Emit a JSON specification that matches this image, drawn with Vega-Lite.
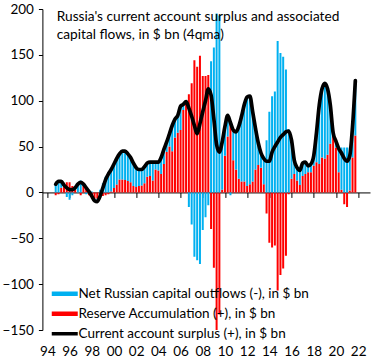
{
  "$schema": "https://vega.github.io/schema/vega-lite/v6.json",
  "width": 327.6,
  "height": 321,
  "autosize": {"type": "none"},
  "padding": {"left": 42.4, "top": 9, "right": 14, "bottom": 30},
  "background": "white",
  "config": {"view": {"stroke": null}, "font": "Lato"},
  "title": {
    "text": ["Russia's current account surplus and associated", "capital flows, in $ bn (4qma)"],
    "anchor": "start", "frame": "group", "orient": "top", "offset": 0,
    "dx": 14.3, "dy": 40, "baseline": "top", "lineHeight": 18,
    "font": "Lato", "fontSize": 13.7, "fontWeight": "normal", "color": "#000"
  },
  "data": {
    "format": {"parse": {"d": "utc:'%Y-%m-%d'"}},
    "values": [
      {"d":"1994-10-01","ca":9,"res":-3,"out":9},
      {"d":"1995-01-01","ca":12,"res":-2,"out":10},
      {"d":"1995-04-01","ca":12,"res":5,"out":7},
      {"d":"1995-07-01","ca":8,"res":8,"out":0},
      {"d":"1995-10-01","ca":5,"res":11,"out":-5},
      {"d":"1996-01-01","ca":3,"res":11,"out":-8},
      {"d":"1996-04-01","ca":3,"res":7,"out":-3},
      {"d":"1996-07-01","ca":5,"res":3,"out":2},
      {"d":"1996-10-01","ca":9,"res":0,"out":9},
      {"d":"1997-01-01","ca":11,"res":-3,"out":13},
      {"d":"1997-04-01","ca":9,"res":7,"out":2},
      {"d":"1997-07-01","ca":5,"res":6,"out":-2},
      {"d":"1997-10-01","ca":1,"res":-3,"out":3},
      {"d":"1998-01-01","ca":-4,"res":-5,"out":1},
      {"d":"1998-04-01","ca":-9,"res":-7,"out":-2},
      {"d":"1998-07-01","ca":-10,"res":-7,"out":-3},
      {"d":"1998-10-01","ca":-4,"res":-5,"out":3},
      {"d":"1999-01-01","ca":5,"res":-4,"out":10},
      {"d":"1999-04-01","ca":14,"res":-3,"out":17},
      {"d":"1999-07-01","ca":20,"res":-2,"out":22},
      {"d":"1999-10-01","ca":25,"res":1,"out":24},
      {"d":"2000-01-01","ca":31,"res":4.7,"out":26},
      {"d":"2000-04-01","ca":37,"res":8.7,"out":28},
      {"d":"2000-07-01","ca":42,"res":14,"out":28},
      {"d":"2000-10-01","ca":45,"res":14,"out":31},
      {"d":"2001-01-01","ca":45,"res":13.5,"out":31.5},
      {"d":"2001-04-01","ca":42,"res":12.5,"out":29.5},
      {"d":"2001-07-01","ca":38,"res":11,"out":27},
      {"d":"2001-10-01","ca":32,"res":7,"out":25},
      {"d":"2002-01-01","ca":27,"res":6,"out":21},
      {"d":"2002-04-01","ca":25,"res":7,"out":18},
      {"d":"2002-07-01","ca":25,"res":7.5,"out":17.5},
      {"d":"2002-10-01","ca":28,"res":10,"out":18},
      {"d":"2003-01-01","ca":32,"res":17,"out":15},
      {"d":"2003-04-01","ca":33,"res":18,"out":15},
      {"d":"2003-07-01","ca":33,"res":13,"out":20},
      {"d":"2003-10-01","ca":33,"res":25,"out":8},
      {"d":"2004-01-01","ca":33,"res":24,"out":9},
      {"d":"2004-04-01","ca":38,"res":20,"out":18},
      {"d":"2004-07-01","ca":47,"res":31,"out":16},
      {"d":"2004-10-01","ca":55,"res":44,"out":11},
      {"d":"2005-01-01","ca":64,"res":50,"out":14},
      {"d":"2005-04-01","ca":73,"res":45,"out":28},
      {"d":"2005-07-01","ca":80,"res":60,"out":20},
      {"d":"2005-10-01","ca":84,"res":65,"out":19},
      {"d":"2006-01-01","ca":94,"res":68,"out":26},
      {"d":"2006-04-01","ca":96,"res":90,"out":6},
      {"d":"2006-07-01","ca":99,"res":99,"out":1},
      {"d":"2006-10-01","ca":92,"res":107,"out":-16},
      {"d":"2007-01-01","ca":83,"res":119,"out":-35},
      {"d":"2007-04-01","ca":73,"res":144,"out":-70},
      {"d":"2007-07-01","ca":64,"res":137,"out":-74},
      {"d":"2007-10-01","ca":75,"res":149,"out":-78},
      {"d":"2008-01-01","ca":88,"res":127,"out":-41},
      {"d":"2008-04-01","ca":100,"res":127,"out":-27},
      {"d":"2008-07-01","ca":113,"res":128,"out":-14},
      {"d":"2008-10-01","ca":106,"res":-40,"out":143},
      {"d":"2009-01-01","ca":80,"res":-82,"out":158},
      {"d":"2009-04-01","ca":52,"res":-150,"out":195},
      {"d":"2009-07-01","ca":44,"res":-133,"out":193},
      {"d":"2009-10-01","ca":55,"res":3,"out":52},
      {"d":"2010-01-01","ca":72,"res":40,"out":32},
      {"d":"2010-04-01","ca":84,"res":61,"out":23},
      {"d":"2010-07-01","ca":76,"res":78,"out":-3},
      {"d":"2010-10-01","ca":68,"res":35,"out":33},
      {"d":"2011-01-01","ca":66,"res":25,"out":41},
      {"d":"2011-04-01","ca":72,"res":15,"out":57},
      {"d":"2011-07-01","ca":83,"res":12,"out":71},
      {"d":"2011-10-01","ca":96,"res":12,"out":84},
      {"d":"2012-01-01","ca":104,"res":7,"out":97},
      {"d":"2012-04-01","ca":105,"res":9,"out":96},
      {"d":"2012-07-01","ca":88,"res":12,"out":76},
      {"d":"2012-10-01","ca":70,"res":25,"out":45},
      {"d":"2013-01-01","ca":54,"res":30,"out":24},
      {"d":"2013-04-01","ca":43,"res":27,"out":16},
      {"d":"2013-07-01","ca":37,"res":9,"out":28},
      {"d":"2013-10-01","ca":34,"res":-23,"out":57},
      {"d":"2014-01-01","ca":34,"res":-55,"out":88},
      {"d":"2014-04-01","ca":44,"res":-60,"out":105},
      {"d":"2014-07-01","ca":50,"res":-58,"out":110},
      {"d":"2014-10-01","ca":55,"res":-107,"out":165},
      {"d":"2015-01-01","ca":60,"res":-90,"out":152},
      {"d":"2015-04-01","ca":63,"res":-83,"out":148},
      {"d":"2015-07-01","ca":66,"res":-69,"out":134},
      {"d":"2015-10-01","ca":67,"res":-2,"out":69},
      {"d":"2016-01-01","ca":57,"res":15,"out":42},
      {"d":"2016-04-01","ca":35,"res":20,"out":15},
      {"d":"2016-07-01","ca":27,"res":13,"out":14},
      {"d":"2016-10-01","ca":24,"res":8,"out":16},
      {"d":"2017-01-01","ca":32,"res":18,"out":14},
      {"d":"2017-04-01","ca":33,"res":20,"out":13},
      {"d":"2017-07-01","ca":29,"res":22,"out":7},
      {"d":"2017-10-01","ca":31,"res":22,"out":9},
      {"d":"2018-01-01","ca":40,"res":29,"out":11},
      {"d":"2018-04-01","ca":65,"res":33,"out":32},
      {"d":"2018-07-01","ca":95,"res":31,"out":64},
      {"d":"2018-10-01","ca":113,"res":38,"out":75},
      {"d":"2019-01-01","ca":119,"res":37,"out":82},
      {"d":"2019-04-01","ca":113,"res":41,"out":72},
      {"d":"2019-07-01","ca":95,"res":53,"out":42},
      {"d":"2019-10-01","ca":65,"res":62,"out":5},
      {"d":"2020-01-01","ca":56,"res":49,"out":7},
      {"d":"2020-04-01","ca":48,"res":22,"out":26},
      {"d":"2020-07-01","ca":43,"res":3,"out":46},
      {"d":"2020-10-01","ca":37,"res":-13,"out":49},
      {"d":"2021-01-01","ca":34,"res":-16,"out":49},
      {"d":"2021-04-01","ca":40,"res":2,"out":47},
      {"d":"2021-07-01","ca":72,"res":38,"out":34},
      {"d":"2021-10-01","ca":122,"res":62,"out":60}
    ]
  },
  "resolve": {"axis": {"x": "independent"}},
  "layer": [
    {
      "transform": [{"fold": ["res", "out"], "as": ["key", "v"]}],
      "mark": {"type": "bar", "width": 2, "clip": true},
      "encoding": {
        "x": {
          "field": "d", "type": "temporal",
          "scale": {"type": "utc", "domain": [{"year": 1994, "month": 1, "date": 1, "utc": true}, {"year": 2022, "month": 8, "date": 15, "utc": true}]},
          "axis": {
            "orient": "bottom", "title": null, "format": "%y", "domain": false, "ticks": false, "grid": false,
            "values": [{"year":1994,"utc":true},{"year":1996,"utc":true},{"year":1998,"utc":true},{"year":2000,"utc":true},{"year":2002,"utc":true},{"year":2004,"utc":true},{"year":2006,"utc":true},{"year":2008,"utc":true},{"year":2010,"utc":true},{"year":2012,"utc":true},{"year":2014,"utc":true},{"year":2016,"utc":true},{"year":2018,"utc":true},{"year":2020,"utc":true},{"year":2022,"utc":true}],
            "labelFont": "Lato", "labelFontSize": 13.5, "labelColor": "#000", "labelPadding": 14, "labelFlush": false, "labelOverlap": false
          }
        },
        "y": {
          "field": "v", "type": "quantitative", "stack": "zero",
          "scale": {"domain": [-150, 200], "nice": false},
          "axis": {
            "title": null, "values": [-150, -100, -50, 0, 50, 100, 150, 200], "grid": false,
            "domainColor": "#000", "tickColor": "#000", "tickSize": 4, "labelPadding": 5,
            "labelFont": "Lato", "labelFontSize": 13.5, "labelColor": "#000"
          }
        },
        "color": {
          "field": "key", "type": "nominal",
          "scale": {"domain": ["out", "res", "ca"], "range": ["#00B0F0", "#FF0000", "#000000"]},
          "legend": {
            "title": null, "orient": "none", "legendX": 2.6, "legendY": 278, "padding": 0,
            "symbolSize": 100, "symbolStrokeWidth": 0, "labelOffset": 20, "rowPadding": 5,
            "labelFont": "Lato", "labelFontSize": 13.5, "labelColor": "#000", "labelLimit": 400,
            "labelExpr": "datum.value === 'out' ? 'Net Russian capital outflows (-), in $ bn' : datum.value === 'res' ? 'Reserve Accumulation (+), in $ bn' : 'Current account surplus (+), in $ bn'",
            "encode": {
              "symbols": {
                "update": {
                  "shape": {"signal": "datum.value === 'ca' ? 'M0,0H5.2' : 'M0,-0.45H5.2V0.45H0Z'"},
                  "fill": {"signal": "datum.value === 'ca' ? 'transparent' : (datum.value === 'out' ? '#00B0F0' : '#FF0000')"},
                  "stroke": {"signal": "datum.value === 'ca' ? '#000000' : 'transparent'"},
                  "strokeWidth": {"signal": "datum.value === 'ca' ? 3.5 : 0"},
                  "opacity": {"value": 1}
                }
              }
            }
          }
        },
        "order": {"field": "key", "sort": "descending"}
      }
    },
    {
      "mark": {"type": "line", "strokeWidth": 3.7, "interpolate": "monotone", "strokeJoin": "round", "strokeCap": "round"},
      "encoding": {
        "x": {
          "field": "d", "type": "temporal",
          "axis": {
            "orient": "bottom", "offset": -137.57, "title": null, "labels": false, "grid": false,
            "domain": true, "domainColor": "#000", "ticks": true, "tickColor": "#000", "tickSize": 5,
            "values": [{"year":1994,"utc":true},{"year":1996,"utc":true},{"year":1998,"utc":true},{"year":2000,"utc":true},{"year":2002,"utc":true},{"year":2004,"utc":true},{"year":2006,"utc":true},{"year":2008,"utc":true},{"year":2010,"utc":true},{"year":2012,"utc":true},{"year":2014,"utc":true},{"year":2016,"utc":true},{"year":2018,"utc":true},{"year":2020,"utc":true},{"year":2022,"utc":true}]
          }
        },
        "y": {"field": "ca", "type": "quantitative"},
        "color": {"datum": "ca", "type": "nominal"}
      }
    }
  ]
}
